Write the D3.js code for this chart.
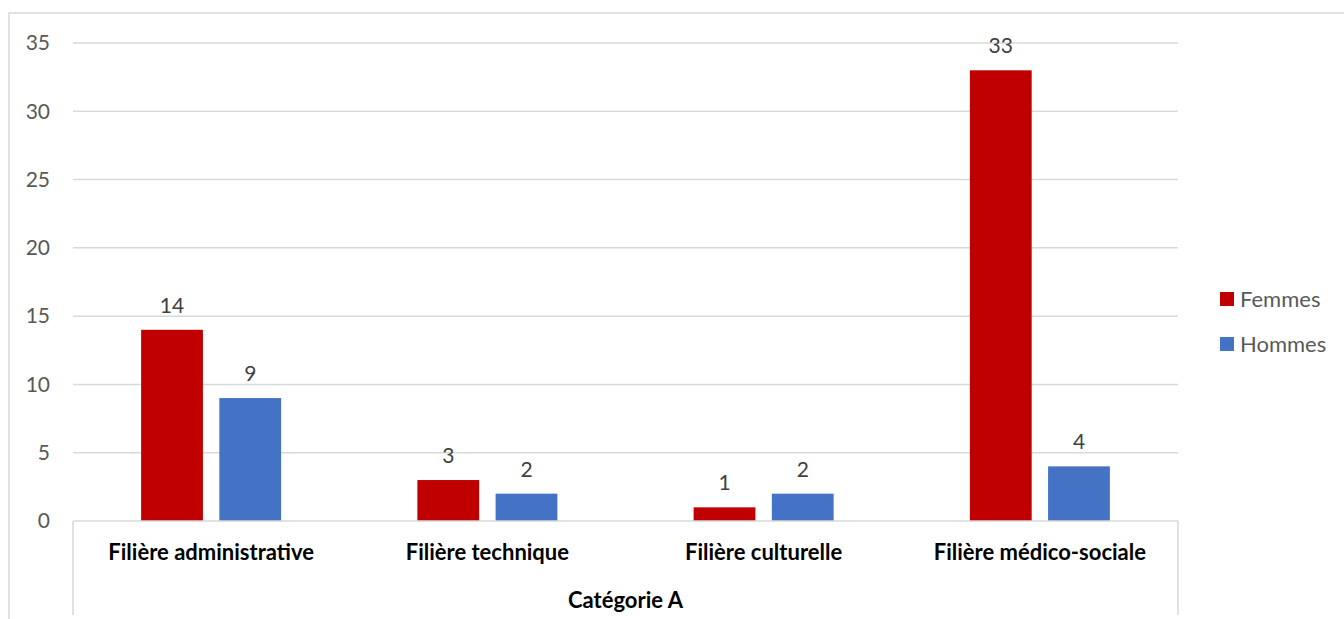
<!DOCTYPE html>
<html>
<head>
<meta charset="utf-8">
<script src="https://cdn.jsdelivr.net/npm/d3@7"></script>
<style>
  html, body { margin: 0; padding: 0; background: #fff; }
  svg { display: block; font-family: Lato, "Open Sans", sans-serif; }
</style>
</head>
<body>
<svg id="chart" width="1344" height="619"></svg>
<script>
// Effectifs par filière, catégorie A
const categories = ["Filière administrative", "Filière technique", "Filière culturelle", "Filière médico-sociale"];
const seriesNames = ["Femmes", "Hommes"];
const femmes = [14, 3, 1, 33];
const hommes = [9, 2, 2, 4];
const yTicks = [0, 5, 10, 15, 20, 25, 30, 35];
const groupLabel = "Catégorie A";
const colors = ["#C00000", "#4472C4"];

const svg = d3.select("#chart");
const plot = { left: 73, right: 1178, top: 43, bottom: 521 };

const rows = categories.map((c, i) => ({ cat: c, values: [femmes[i], hommes[i]] }));

const x = d3.scaleBand().domain(categories).range([plot.left, plot.right]).paddingInner(0).paddingOuter(0);
const x1 = d3.scaleBand().domain(seriesNames).range([0, 140]).paddingInner(0.21);
const groupOffset = (x.bandwidth() - 140) / 2;
const y = d3.scaleLinear().domain([0, 35]).range([plot.bottom, plot.top]);

// outer chart frame
svg.append("rect")
  .attr("x", 9).attr("y", 13).attr("width", 1400).attr("height", 700)
  .attr("fill", "none").attr("stroke", "#d9d9d9").attr("stroke-width", 1.5);

// horizontal gridlines
svg.append("g")
  .selectAll("line")
  .data(yTicks.filter(t => t > 0))
  .join("line")
  .attr("x1", plot.left).attr("x2", plot.right)
  .attr("y1", d => y(d)).attr("y2", d => y(d))
  .attr("stroke", "#d9d9d9").attr("stroke-width", 1.5);

// y-axis labels
svg.append("g")
  .selectAll("text")
  .data(yTicks)
  .join("text")
  .attr("x", 50).attr("y", d => y(d))
  .attr("dy", "0.35em")
  .attr("text-anchor", "end")
  .attr("fill", "#595959")
  .attr("font-size", 21)
  .text(d => d);

// bars
const groups = svg.append("g")
  .selectAll("g")
  .data(rows)
  .join("g")
  .attr("transform", d => `translate(${x(d.cat) + groupOffset},0)`);

groups.selectAll("rect")
  .data(d => d.values.map((v, i) => ({ key: seriesNames[i], v, i })))
  .join("rect")
  .attr("x", d => x1(d.key))
  .attr("y", d => y(d.v))
  .attr("width", x1.bandwidth())
  .attr("height", d => y(0) - y(d.v))
  .attr("fill", d => colors[d.i]);

// value labels
groups.selectAll("text")
  .data(d => d.values.map((v, i) => ({ key: seriesNames[i], v, i })))
  .join("text")
  .attr("x", d => x1(d.key) + x1.bandwidth() / 2)
  .attr("y", d => y(d.v) - 17)
  .attr("text-anchor", "middle")
  .attr("fill", "#404040")
  .attr("font-size", 21)
  .text(d => d.v);

// category axis box
const axisG = svg.append("g").attr("stroke", "#d9d9d9").attr("stroke-width", 1.5);
axisG.append("line").attr("x1", plot.left).attr("x2", plot.right).attr("y1", plot.bottom).attr("y2", plot.bottom);
axisG.append("line").attr("x1", plot.left).attr("x2", plot.left).attr("y1", plot.bottom).attr("y2", 615);
axisG.append("line").attr("x1", plot.right).attr("x2", plot.right).attr("y1", plot.bottom).attr("y2", 615);

// category labels
svg.append("g")
  .selectAll("text")
  .data(categories)
  .join("text")
  .attr("x", d => x(d) + x.bandwidth() / 2)
  .attr("y", 560)
  .attr("text-anchor", "middle")
  .attr("font-weight", "bold")
  .attr("font-size", 22)
  .attr("fill", "#000")
  .text(d => d);

svg.append("text")
  .attr("x", (plot.left + plot.right) / 2)
  .attr("y", 608)
  .attr("text-anchor", "middle")
  .attr("font-weight", "bold")
  .attr("font-size", 22)
  .attr("fill", "#000")
  .text(groupLabel);

// legend
const legend = svg.append("g")
  .selectAll("g")
  .data(seriesNames)
  .join("g")
  .attr("transform", (d, i) => `translate(1220, ${292 + i * 45})`);
legend.append("rect").attr("width", 14).attr("height", 14).attr("fill", (d, i) => colors[i]);
legend.append("text")
  .attr("x", 20).attr("y", 7).attr("dy", "0.35em")
  .attr("fill", "#595959").attr("font-size", 22)
  .text(d => d);
</script>
</body>
</html>
